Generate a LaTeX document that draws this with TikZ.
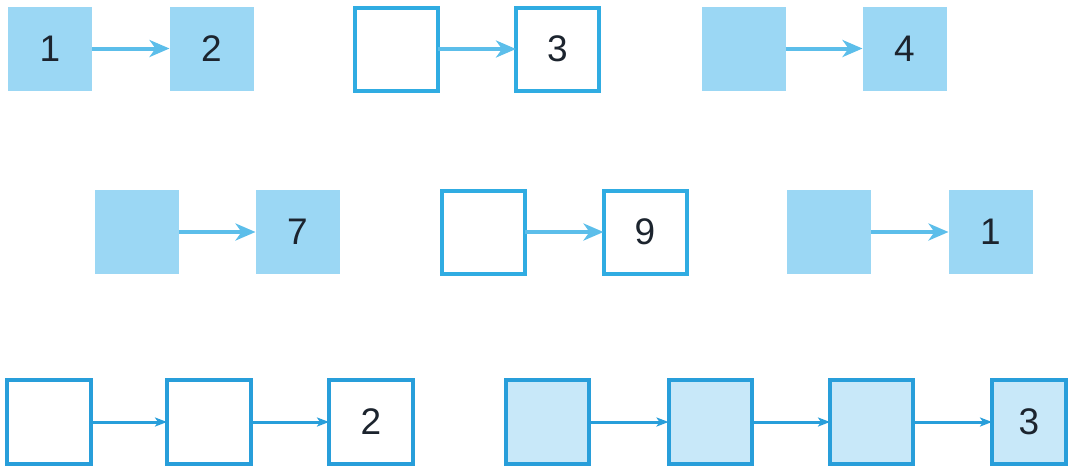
\documentclass[tikz,border=0pt]{standalone}
\usepackage{fontspec}
\setmainfont{Liberation Sans}
\usetikzlibrary{arrows.meta}
\definecolor{fillblue}{RGB}{155,215,244}
\definecolor{lineblue}{RGB}{48,172,226}
\definecolor{linedeep}{RGB}{40,158,218}
\definecolor{paleblue}{RGB}{200,232,249}
\definecolor{arrowblue}{RGB}{92,190,234}
\definecolor{digit}{RGB}{28,36,46}
\tikzset{
  every node/.style={inner sep=0pt, outer sep=0pt, font=\fontsize{37}{37}\selectfont, text=digit},
  fbox/.style={fill=fillblue, minimum width=84pt, minimum height=84pt},
  obox/.style={draw=lineblue, line width=4pt, fill=white, minimum width=83pt, minimum height=83pt},
  wbox/.style={draw=linedeep, line width=4pt, fill=white, minimum width=84pt, minimum height=84pt},
  pbox/.style={draw=linedeep, line width=4pt, fill=paleblue, minimum width=83pt, minimum height=84pt},
  bigarrow/.style={draw=arrowblue, line width=4pt, -{Stealth[length=20pt,width=17pt,inset=6pt]}},
  smallarrow/.style={draw=linedeep, line width=3pt, -{Stealth[length=12pt,width=9pt,inset=3pt]}}
}
\begin{document}
\begin{tikzpicture}[x=1pt,y=-1pt]
\useasboundingbox (0,0) rectangle (1071,467);
% row 1
\node[fbox] (a1) at (50,48.5) {1};
\node[fbox] (a2) at (211.5,48.5) {2};
\node[obox] (b1) at (396.5,49) {};
\node[obox] (b2) at (557.5,49) {3};
\node[fbox] (c1) at (743.5,48.5) {};
\node[fbox] (c2) at (904.5,48.5) {4};
\draw[bigarrow] (a1.east) -- (a2.west);
\draw[bigarrow] (b1.east) -- (b2.west);
\draw[bigarrow] (c1.east) -- (c2.west);
% row 2
\node[fbox] (d1) at (137,232) {};
\node[fbox] (d2) at (297.5,232) {7};
\node[obox] (e1) at (483.5,232) {};
\node[obox] (e2) at (645,232) {9};
\node[fbox] (f1) at (829,232) {};
\node[fbox] (f2) at (990.5,232) {1};
\draw[bigarrow] (d1.east) -- (d2.west);
\draw[bigarrow] (e1.east) -- (e2.west);
\draw[bigarrow] (f1.east) -- (f2.west);
% row 3
\node[wbox] (g1) at (48.5,422) {};
\node[wbox] (g2) at (209,422) {};
\node[wbox] (g3) at (371,422) {2};
\draw[smallarrow] (g1.east) -- (g2.west);
\draw[smallarrow] (g2.east) -- (g3.west);
\node[pbox] (h1) at (547.5,422) {};
\node[pbox] (h2) at (710,422) {};
\node[pbox] (h3) at (871.5,422) {};
\node[pbox, minimum width=74pt] (h4) at (1029,422) {3};
\draw[smallarrow] (h1.east) -- (h2.west);
\draw[smallarrow] (h2.east) -- (h3.west);
\draw[smallarrow] (h3.east) -- (h4.west);
\end{tikzpicture}
\end{document}
